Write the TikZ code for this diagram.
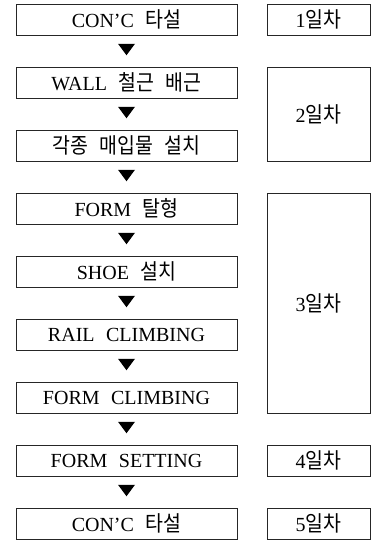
\documentclass[tikz,border=0pt]{standalone}
\usepackage{fontspec}
\setmainfont{Liberation Serif}
\newfontfamily\kr[Scale=1.08,FakeStretch=0.9]{Noto Sans CJK KR}
\usetikzlibrary{calc}
\begin{document}
\begin{tikzpicture}[x=1pt,y=1pt,
  txt/.style={font=\fontsize{20}{23}\selectfont,execute at begin node={\spaceskip=11.5pt\relax}},
  stepbox/.style={txt,draw=black!85,line width=0.9pt,minimum width=221pt,minimum height=31pt,inner sep=0pt},
  daybox/.style={txt,draw=black!85,line width=0.9pt,minimum width=103pt,inner sep=0pt},
  tri/.style={fill=black}]
\useasboundingbox (0,0) rectangle (377,-547);
\node[stepbox] (s1) at (126.5,-19.5) {CON'C {\kr 타설}};
\node[stepbox] (s2) at (126.5,-82.5) {WALL {\kr 철근 배근}};
\node[stepbox] (s3) at (126.5,-145.5) {\kr 각종 매입물 설치};
\node[stepbox] (s4) at (126.5,-208.5) {FORM {\kr 탈형}};
\node[stepbox] (s5) at (126.5,-271.5) {SHOE {\kr 설치}};
\node[stepbox] (s6) at (126.5,-334.5) {RAIL CLIMBING};
\node[stepbox] (s7) at (126.5,-397.5) {FORM CLIMBING};
\node[stepbox] (s8) at (126.5,-460.5) {FORM SETTING};
\node[stepbox] (s9) at (126.5,-523.5) {CON'C {\kr 타설}};
\node[daybox,minimum height=31pt] (d1) at (318.5,-19.5) {1{\kr 일차}};
\node[daybox,minimum height=94pt] (d2) at (318.5,-114) {2{\kr 일차}};
\node[daybox,minimum height=220pt] (d3) at (318.5,-303) {3{\kr 일차}};
\node[daybox,minimum height=31pt] (d4) at (318.5,-460.5) {4{\kr 일차}};
\node[daybox,minimum height=31pt] (d5) at (318.5,-523.5) {5{\kr 일차}};
\foreach \a/\b in {s1/s2,s2/s3,s3/s4,s4/s5,s5/s6,s6/s7,s7/s8,s8/s9}{
  \coordinate (m\a) at ($(\a.south)!0.5!(\b.north)+(0,1.5)$);
  \fill[tri] ($(m\a)+(-8.5,5.75)$) -- ++(17,0) -- ++(-8.5,-11.5) -- cycle;
}
\end{tikzpicture}
\end{document}
